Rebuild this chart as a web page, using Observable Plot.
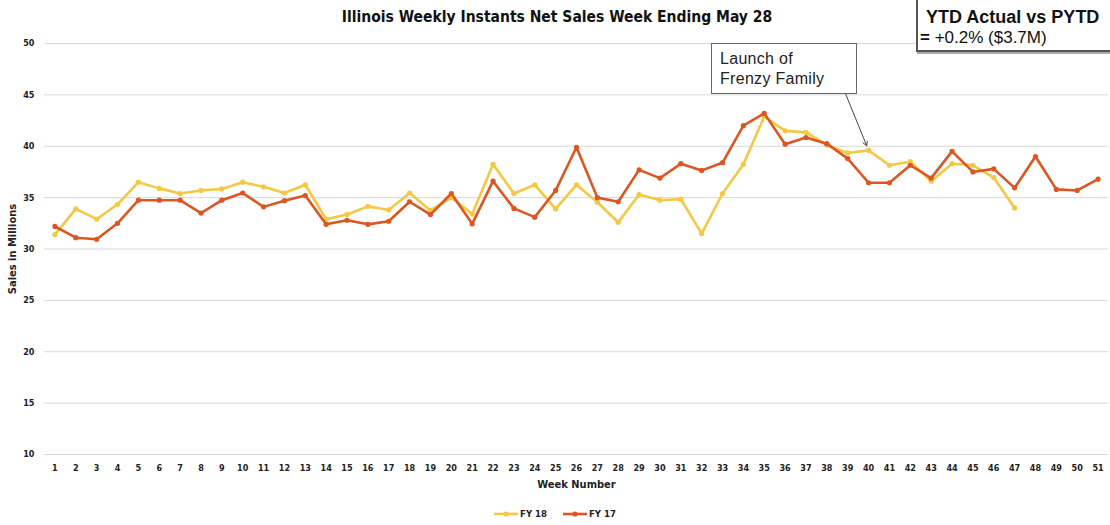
<!DOCTYPE html>
<html>
<head>
<meta charset="utf-8">
<script src="https://cdn.jsdelivr.net/npm/d3@7"></script>
<script src="https://cdn.jsdelivr.net/npm/@observablehq/plot@0.6"></script>
<style>
  body { margin: 0; background: #fff; }
  #wrap { position: relative; width: 1110px; height: 525px; overflow: hidden; font-family: "Liberation Sans Narrow", "Arial Narrow", "DejaVu Sans Condensed", sans-serif; }
  #title { position: absolute; top: 8px; left: 0; width: 1114px; text-align: center; font-weight: bold; font-size: 15.5px; color: #111; }
  #ytd { position: absolute; left: 916px; top: -4px; width: 200px; height: 52px; border: 2px solid #555; box-shadow: 1px 2px 0 #aaa; background: #fff; font-family: "Liberation Sans", Arial, sans-serif; color: #111; }
  #ytd .l1 { position: absolute; left: 8px; top: 9px; font-weight: bold; font-size: 18px; white-space: nowrap; }
  #ytd .l2 { position: absolute; left: 2px; top: 30px; font-size: 17px; white-space: nowrap; }
  #launch { position: absolute; left: 711px; top: 43px; width: 144px; height: 49px; border: 1px solid #666; background: #fff; font-family: "Liberation Sans", Arial, sans-serif; font-size: 16px; color: #222; line-height: 20px; letter-spacing: 0.3px; }
  #launch div { padding: 5px 0 0 8px; }
  #legend { position: absolute; top: 508px; left: 0; width: 1110px; text-align: center; font-weight: bold; font-size: 9.5px; color: #222; }
  #legend span.item { display: inline-flex; align-items: center; margin: 0 8px; }
  #legend svg { margin-right: 2px; }
</style>
</head>
<body>
<div id="wrap">
  <div id="chart"></div>
  <div id="title"></div>
  <div id="launch"><div></div></div>
  <div id="ytd"><span class="l1"></span><span class="l2"></span></div>
  <div id="legend"></div>
</div>
<script>
// ---- data ----
const weeks = [1,2,3,4,5,6,7,8,9,10,11,12,13,14,15,16,17,18,19,20,21,22,23,24,25,26,27,28,29,30,31,32,33,34,35,36,37,38,39,40,41,42,43,44,45,46,47,48,49,50,51];
const fy18 = [31.4,33.9,32.9,34.35,36.5,35.9,35.4,35.7,35.85,36.5,36.05,35.45,36.25,32.9,33.35,34.15,33.8,35.45,33.75,35.0,33.4,38.25,35.4,36.25,33.9,36.25,34.55,32.6,35.3,34.75,34.85,31.5,35.4,38.25,42.9,41.5,41.35,40.1,39.35,39.6,38.15,38.5,36.6,38.3,38.15,36.95,34.0];
const fy17 = [32.2,31.1,30.95,32.5,34.75,34.75,34.75,33.5,34.75,35.45,34.1,34.7,35.2,32.4,32.8,32.4,32.7,34.6,33.35,35.4,32.45,36.6,33.95,33.1,35.7,39.9,35.0,34.6,37.7,36.9,38.3,37.65,38.4,42.0,43.2,40.2,40.85,40.25,38.8,36.45,36.45,38.15,36.9,39.5,37.5,37.8,35.95,39.0,35.8,35.7,36.8];
const yTicks = [10,15,20,25,30,35,40,45,50];
const seriesNames = ["FY 18", "FY 17"];
const seriesColors = ["#F4C842", "#DD5621"];
const titleText = "Illinois Weekly Instants Net Sales Week Ending May 28";
const xLabel = "Week Number";
const yLabel = "Sales in Millions";
const launchText = ["Launch of", "Frenzy Family"];
const launchWeek = 40;
const launchArrowFrom = { week: 38.9, value: 45.1 };
const ytdTitle = "YTD Actual vs PYTD";
const ytdValue = "+0.2% ($3.7M)";

// ---- tables ----
const rows18 = fy18.map((v, i) => ({ week: weeks[i], value: v, series: seriesNames[0] }));
const rows17 = fy17.map((v, i) => ({ week: weeks[i], value: v, series: seriesNames[1] }));
const arrowData = [{ x1: launchArrowFrom.week, y1: launchArrowFrom.value, x2: launchWeek, y2: fy18[weeks.indexOf(launchWeek)] }];

const narrow = '"Liberation Sans Narrow", "Arial Narrow", "DejaVu Sans Condensed", sans-serif';

const chart = Plot.plot({
  width: 1110,
  height: 525,
  marginTop: 43,
  marginBottom: 71,
  marginLeft: 44,
  marginRight: 2,
  style: { fontFamily: narrow, fontWeight: "bold", fontSize: "9px", color: "#222", background: "transparent" },
  x: { type: "linear", domain: [0.5, weeks.length + 0.5] },
  y: { domain: [10, 50] },
  marks: [
    Plot.gridY(yTicks, { stroke: "#d9d9d9", strokeOpacity: 1, strokeWidth: 1 }),
    Plot.axisY(yTicks, { tickSize: 0, tickPadding: 10, label: yLabel, labelAnchor: "center", labelArrow: "none", labelOffset: 36, fontSize: 9 }),
    Plot.axisX(weeks, { tickSize: 0, tickPadding: 10, tickFormat: d => String(d), label: xLabel, labelAnchor: "center", labelArrow: "none", labelOffset: 33, fontSize: 9 }),
    Plot.line(rows18, { x: "week", y: "value", stroke: seriesColors[0], strokeWidth: 2.6 }),
    Plot.dot(rows18, { x: "week", y: "value", fill: seriesColors[0], r: 2.6 }),
    Plot.line(rows17, { x: "week", y: "value", stroke: seriesColors[1], strokeWidth: 2.6 }),
    Plot.dot(rows17, { x: "week", y: "value", fill: seriesColors[1], r: 2.6 }),
    Plot.arrow(arrowData, { x1: "x1", y1: "y1", x2: "x2", y2: "y2", stroke: "#444", strokeWidth: 1, headLength: 7, insetEnd: 5 })
  ]
});
document.getElementById("chart").appendChild(chart);

// label font sizes for axis titles
d3.select(chart).selectAll("[aria-label='y-axis label'] text, [aria-label='x-axis label'] text").style("font-size", "11px");

document.getElementById("title").textContent = titleText;
document.querySelector("#launch div").innerHTML = launchText.join("<br>");
document.querySelector("#ytd .l1").textContent = ytdTitle;
document.querySelector("#ytd .l2").innerHTML = "<b>=</b> " + ytdValue;

const legend = d3.select("#legend");
seriesNames.forEach((name, i) => {
  const item = legend.append("span").attr("class", "item");
  const s = item.append("svg").attr("width", 24).attr("height", 8);
  s.append("line").attr("x1", 0).attr("x2", 24).attr("y1", 4).attr("y2", 4).attr("stroke", seriesColors[i]).attr("stroke-width", 2.6);
  s.append("circle").attr("cx", 12).attr("cy", 4).attr("r", 2.6).attr("fill", seriesColors[i]);
  item.append("span").text(name);
});
</script>
</body>
</html>
